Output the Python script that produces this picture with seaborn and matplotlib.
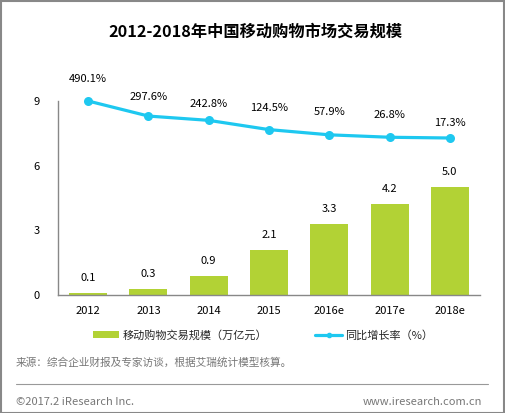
import matplotlib
matplotlib.use("Agg")
import matplotlib.pyplot as plt
import seaborn as sns
import pandas as pd
from matplotlib.patches import Patch, Rectangle
from matplotlib.lines import Line2D

years = ["2012", "2013", "2014", "2015", "2016e", "2017e", "2018e"]
scale = [0.1, 0.3, 0.9, 2.1, 3.3, 4.2, 5.0]
growth = [490.1, 297.6, 242.8, 124.5, 57.9, 26.8, 17.3]
yticks = [0, 3, 6, 9]

sns.set_theme(style="white")
plt.rcParams['font.family'] = ['Noto Sans CJK SC', 'DejaVu Sans']

BAR = "#b2d235"
LINE = "#1ec8f0"

fig = plt.figure(figsize=(5.05, 4.13), dpi=100)
ax = fig.add_axes([58/505, 1-295/413, (480-58)/505, (295-101)/413])

df = pd.DataFrame({"year": years, "scale": scale, "growth": growth})
sns.barplot(data=df, x="year", y="scale", color=BAR, width=0.63, ax=ax,
            saturation=1, edgecolor="none")
ax.set_ylim(0, 9)
ax.set_xlim(-0.5, 6.5)
ax.set_yticks(yticks)
ax.set_yticklabels([str(t) for t in yticks])
ax.set_xlabel("")
ax.set_ylabel("")
ax.tick_params(axis="both", length=0, labelsize=8, colors="black")
ax.tick_params(axis="y", pad=13)
ax.tick_params(axis="x", pad=8)
for s in ["top", "right"]:
    ax.spines[s].set_visible(False)
for s in ["left", "bottom"]:
    ax.spines[s].set_color("#888888")
    ax.spines[s].set_linewidth(1)

for i, v in enumerate(scale):
    ax.annotate(f"{v:.1f}", (i, v), xytext=(0, 15), textcoords="offset pixels",
                ha="center", va="center", fontsize=8, color="black")

ax2 = ax.twinx()
top = 490.1
span = 194 / (37 / 472.8)
ax2.set_ylim(top - span, top)
sns.lineplot(data=df, x="year", y="growth", color=LINE, linewidth=2.3, marker="o",
             markersize=6.5, markeredgewidth=0, ax=ax2, clip_on=False, sort=False)
ax2.axis("off")
offs = [22, 19, 16, 22, 23, 22, 15]
for i, v in enumerate(growth):
    ax2.annotate(f"{v:.1f}%", (i, v), xytext=(0, offs[i]), textcoords="offset pixels",
                 ha="center", va="center", fontsize=8, color="black")

fig.text(0.505, 1-32/413, "2012-2018年中国移动购物市场交易规模", ha="center", va="center",
         fontsize=11.7, fontweight="bold", color="black")

handles = [Patch(facecolor=BAR, edgecolor="none"),
           Line2D([0], [0], color=LINE, linewidth=2.3, marker="o", markersize=3)]
fig.legend(handles, ["移动购物交易规模（万亿元）", "同比增长率（%）"], ncol=2,
           loc="center", bbox_to_anchor=(263/505, 1-335/413), frameon=False,
           fontsize=8, handlelength=2.4, handleheight=0.6, handletextpad=0.3,
           columnspacing=4.3)

fig.text(16/505, 1-363/413, "来源：综合企业财报及专家访谈，根据艾瑞统计模型核算。",
         ha="left", va="center", fontsize=7.7, color="#777777")
fig.add_artist(Line2D([16/505, 488/505], [1-384/413, 1-384/413], color="#999999",
                      linewidth=0.8, transform=fig.transFigure))
fig.text(16/505, 1-402/413, "©2017.2 iResearch Inc.", ha="left", va="center",
         fontsize=8, color="#777777")
fig.text(482/505, 1-402/413, "www.iresearch.com.cn", ha="right", va="center",
         fontsize=8, color="#777777")
fig.add_artist(Rectangle((0.5/505, 0.5/413), 503.5/505, 411.5/413, fill=False,
                         edgecolor="#888888", linewidth=1.5, transform=fig.transFigure))

fig.savefig("out.png", dpi=100)
